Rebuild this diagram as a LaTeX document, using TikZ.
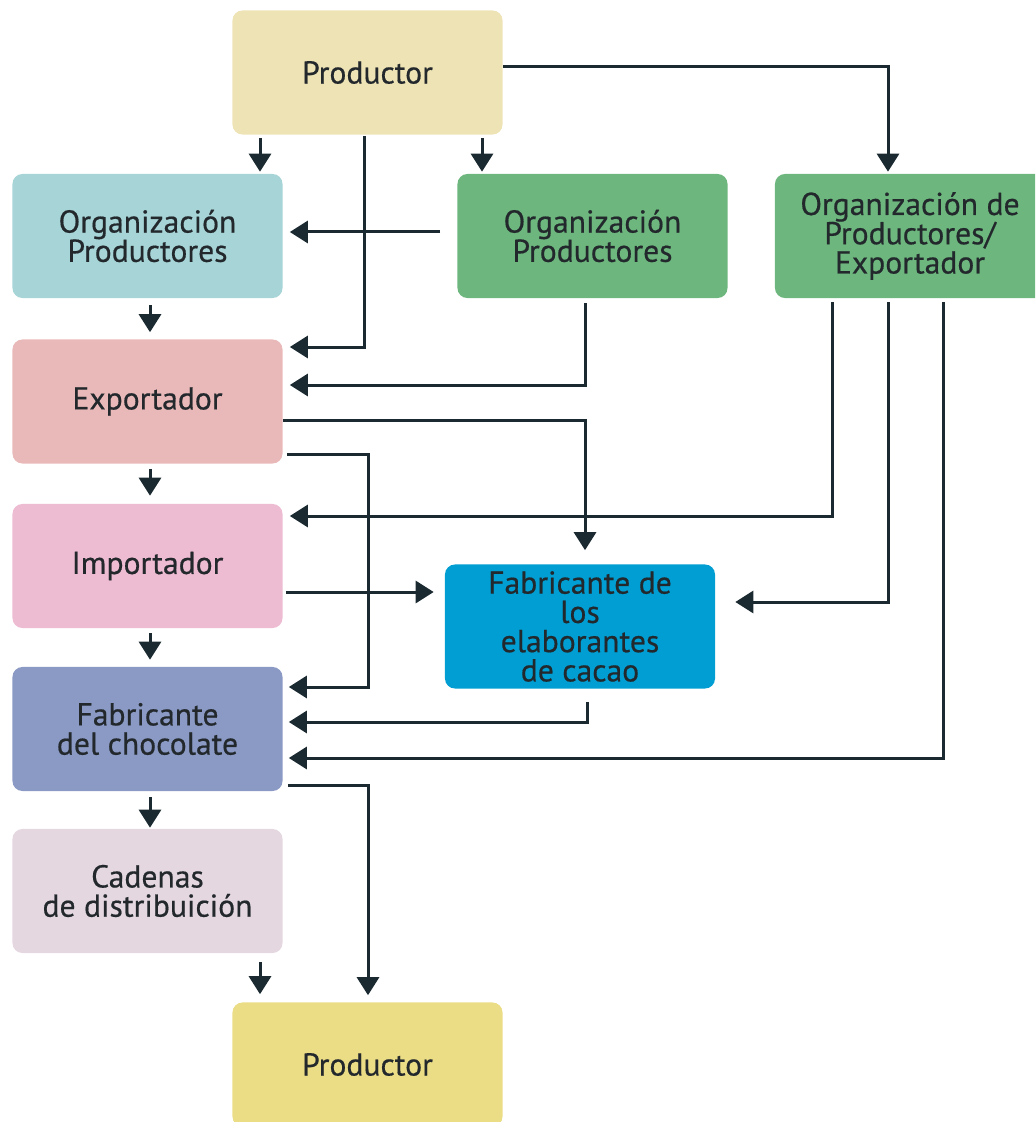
\documentclass[tikz,border=0pt]{standalone}
\usepackage{fontspec}
\setmainfont{PT Sans}
\newfontfamily\boxfont{PT Sans}[FakeBold=0.5]
\usetikzlibrary{arrows.meta}

\definecolor{prodA}{HTML}{EEE3B5}
\definecolor{prodB}{HTML}{EBDC86}
\definecolor{orgA}{HTML}{A6D4D7}
\definecolor{orgB}{HTML}{6DB77E}
\definecolor{expo}{HTML}{E9B9B9}
\definecolor{impo}{HTML}{EDBBD2}
\definecolor{fabE}{HTML}{009ED3}
\definecolor{fabC}{HTML}{8B9AC4}
\definecolor{cade}{HTML}{E4D7E0}
\definecolor{linec}{HTML}{1B2A31}
\definecolor{textc}{HTML}{22282C}

\begin{document}
\begin{tikzpicture}[x=0.025cm, y=-0.025cm]
            \tikzstyle{box}=[rounded corners=0.25cm,minimum width=6.75cm,minimum height=3.1cm,align=center,text=textc,font=\boxfont\fontsize{22.5}{20.8}\selectfont,inner sep=2pt]
            \tikzstyle{arr}=[draw=linec,line width=0.075cm,-{Triangle[width=0.55cm,length=0.45cm]}]
            \useasboundingbox (0,0) rectangle (1035,1122);
            \clip (0,0) rectangle (1035,1122);

            \node[box,fill=prodA] (P_1) at (367.5,72.5)  {Productor};
            \node[box,fill=orgA]  (O_1) at (147.5,236)   {Organización\\Productores};
            \node[box,fill=orgB]  (O_2) at (592.5,236)   {Organización\\Productores};
            \node[box,fill=orgB]  (O_3) at (910,236)     {Organización de\\Productores/\\Exportador};
            \node[box,fill=expo]  (E)   at (147.5,401.5) {Exportador};
            \node[box,fill=impo]  (I)   at (147.5,566)   {Importador};
            \node[box,fill=fabE]  (F_1) at (580,626.5)   {Fabricante de\\los\\elaborantes\\de cacao};
            \node[box,fill=fabC]  (F_2) at (147.5,729)   {Fabricante\\del chocolate};
            \node[box,fill=cade]  (C)   at (147.5,891)   {Cadenas\\de distribuición};
            \node[box,fill=prodB] (P_2) at (367.5,1064.5) {Productor};

            \draw[arr,shorten >=0.05cm] (P_1.east |- 0,67) -| (O_3.north -| 888,0);
            \draw[arr,shorten <=0.075cm,shorten >=0.05cm] (P_1.south -| 260,0) -- (O_1.north -| 260,0);
            \draw[arr,shorten <=0.075cm,shorten >=0.05cm] (P_1.south -| 482,0) -- (O_2.north -| 482,0);
            \draw[arr,shorten <=0.025cm,shorten >=0.175cm] (P_1.south -| 364,0) |- (E.east |- 0,347);
            \draw[arr,shorten <=0.425cm,shorten >=0.175cm] (O_2.west |- 0,232) -- (O_1.east |- 0,232);
            \draw[arr,shorten <=0.175cm,shorten >=0.175cm] (O_1.south -| 150,0) -- (E.north -| 150,0);
            \draw[arr,shorten <=0.125cm,shorten >=0.175cm] (O_2.south -| 585,0) |- (E.east |- 0,385);
            \draw[arr,shorten >=0.35cm] (E.east |- 0,420) -| (F_1.north -| 585,0);
            \draw[arr,shorten <=0.1cm,shorten >=0.15cm] (E.east |- 0,454) -| (368,687) -- (F_2.east |- 0,687);
            \draw[arr,shorten <=0.125cm,shorten >=0.2cm] (E.south -| 150,0) -- (I.north -| 150,0);
            \draw[arr,shorten <=0.1cm,shorten >=0.175cm] (O_3.south -| 832,0) |- (I.east |- 0,516);
            \draw[arr,shorten <=0.1cm,shorten >=0.5cm] (O_3.south -| 888,0) |- (F_1.east |- 0,602);
            \draw[arr,shorten <=0.1cm,shorten >=0.15cm] (O_3.south -| 943,0) |- (F_2.east |- 0,758);
            \draw[arr,shorten <=0.075cm,shorten >=0.275cm] (I.east |- 0,592) -- (F_1.west |- 0,592);
            \draw[arr,shorten <=0.125cm,shorten >=0.175cm] (I.south -| 150,0) -- (F_2.north -| 150,0);
            \draw[arr,shorten <=0.325cm,shorten >=0.15cm] (F_1.south -| 587,0) |- (F_2.east |- 0,722);
            \draw[arr,shorten <=0.15cm,shorten >=0.025cm] (F_2.south -| 150,0) -- (C.north -| 150,0);
            \draw[arr,shorten <=0.125cm,shorten >=0.175cm] (F_2.east |- 0,785) -| (P_2.north -| 368,0);
            \draw[arr,shorten <=0.225cm,shorten >=0.2cm] (C.south -| 260,0) -- (P_2.north -| 260,0);
\end{tikzpicture}
\end{document}
